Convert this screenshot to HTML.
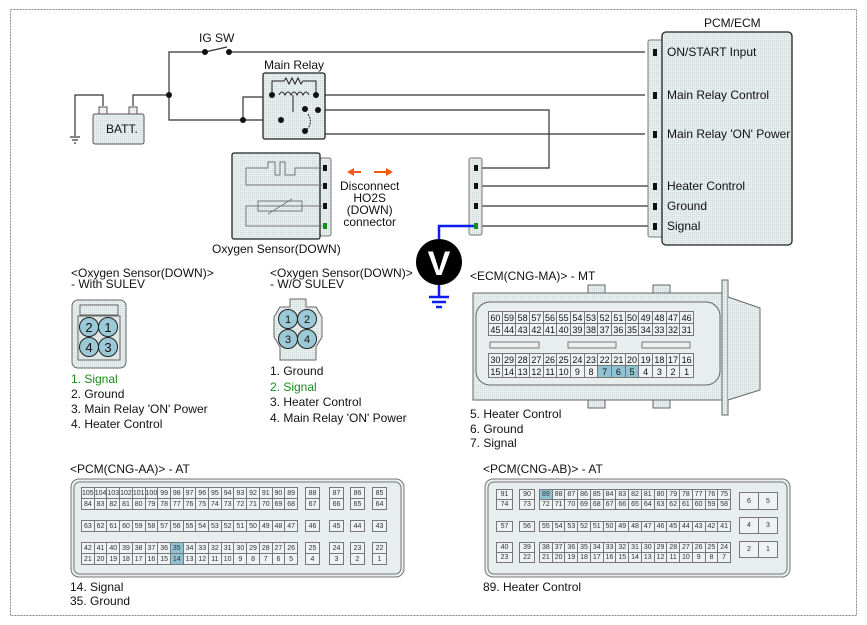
<!DOCTYPE html>
<html><head><meta charset="utf-8"><style>
body{margin:0;background:#fff;font-family:"Liberation Sans",sans-serif}
#w{position:relative;width:867px;height:625px;overflow:hidden}
svg{position:absolute;left:0;top:0}
.t{position:absolute;font-size:12px;color:#111;white-space:nowrap;line-height:14px}
.g{position:absolute;display:grid;background:#eef2f2}
.g span{border:1px solid #777;margin-left:-1px;margin-top:-1px;text-align:center;font-size:7px;color:#333;display:flex;align-items:center;justify-content:center;overflow:hidden}
.e span{font-size:9px;color:#111}
.h{background:#8fc3d4}
.gr{color:#1a8a1a}
</style></head><body><div id="w">
<svg width="867" height="625" viewBox="0 0 867 625">
<defs><pattern id="d" width="2" height="2" patternUnits="userSpaceOnUse"><rect width="2" height="2" fill="#e6eeee"/><rect width="1" height="1" fill="#cfd8d8"/></pattern></defs>
<rect x="10.5" y="9.5" width="846" height="606" fill="none" stroke="#888" stroke-dasharray="2,1"/>
<g stroke="#333" stroke-width="1.2" fill="none">
<polyline points="229,52 645,52"/>
<polyline points="205,52 169,52 169,120 243,120 281,120"/>
<polyline points="169,95 133,95 133,106"/>
<polyline points="103,106 103,95 75,95 75,136"/>
<line x1="70" y1="137" x2="80" y2="137"/><line x1="72" y1="140" x2="78" y2="140"/><line x1="74" y1="143" x2="76" y2="143"/>
<line x1="205" y1="52" x2="227" y2="47"/>
<polyline points="243,120 243,97 272,97"/>
<polyline points="316,95 645,95"/>
<polyline points="318,110 549,110 549,168 482,168"/>
<polyline points="318,110 318,134 645,134"/>
<line x1="281" y1="120" x2="305" y2="109"/>
<line x1="482" y1="186" x2="648" y2="186"/><line x1="482" y1="206" x2="648" y2="206"/><line x1="482" y1="226" x2="648" y2="226"/>
</g>
<g fill="#111"><circle cx="205" cy="52" r="3"/><circle cx="229" cy="52" r="3"/><circle cx="169" cy="95" r="3"/><circle cx="243" cy="120" r="3"/></g>
<!-- battery -->
<rect x="93" y="114" width="51" height="30" rx="2" fill="url(#d)" stroke="#555"/>
<rect x="99" y="107" width="8" height="7" fill="#eee" stroke="#555"/><rect x="129" y="107" width="8" height="7" fill="#eee" stroke="#555"/>
<!-- relay -->
<rect x="263" y="73" width="62" height="66" rx="2" fill="url(#d)" stroke="#222" stroke-width="1.3"/>
<g stroke="#222" fill="none" stroke-width="1">
<polyline points="272,95 272,81 284,81 286,78 289,84 292,78 295,84 298,78 301,84 303,81 316,81 316,95"/>
<path d="M279,95 q3,-6 6,0 q3,-6 6,0 q3,-6 6,0 q3,-6 6,0 q3,-6 6,0"/>
<line x1="293" y1="95" x2="293" y2="112"/>
<path d="M308,114 q6,10 -3,17" stroke-dasharray="2,1"/>
</g>
<g fill="#111"><circle cx="272" cy="95" r="3"/><circle cx="316" cy="95" r="3"/><circle cx="281" cy="120" r="3"/><circle cx="305" cy="109" r="3"/><circle cx="318" cy="110" r="3"/><circle cx="305" cy="131" r="3"/></g>
<!-- oxygen sensor -->
<rect x="320" y="158" width="11" height="78" rx="2" fill="url(#d)" stroke="#777"/>
<rect x="232" y="153" width="88" height="86" rx="2" fill="url(#d)" stroke="#222" stroke-width="1.3"/>
<g stroke="#777" fill="none">
<polyline points="322,168 295,168 295,175 285,175 285,162 280,162 280,175 275,175 275,162 268,162 268,168 246,168 246,185 322,185"/>
<polyline points="322,206 246,206 246,226 322,226"/>
<rect x="258" y="201" width="44" height="10"/><line x1="268" y1="214" x2="292" y2="199"/>
</g>
<g fill="#111"><rect x="323" y="165" width="4" height="6"/><rect x="323" y="183" width="4" height="6"/><rect x="323" y="203" width="4" height="6"/></g>
<rect x="323" y="223" width="4" height="6" fill="#1a8a1a"/>
<g fill="#f05a14" stroke="#f05a14" stroke-width="2"><line x1="352" y1="172" x2="361" y2="172"/><line x1="374" y1="172" x2="388" y2="172"/></g>
<polygon points="347,172 354,168 354,176" fill="#f05a14"/><polygon points="393,172 386,168 386,176" fill="#f05a14"/>
<!-- small connector -->
<rect x="469" y="158" width="13" height="77" rx="2" fill="url(#d)" stroke="#777"/>
<g fill="#111"><rect x="474" y="165" width="4" height="6"/><rect x="474" y="183" width="4" height="6"/><rect x="474" y="203" width="4" height="6"/></g>
<polyline points="476,226 439,226 439,296" stroke="#0a1ef0" stroke-width="2.5" fill="none"/>
<rect x="474" y="223" width="4" height="6" fill="#1a8a1a"/>
<g stroke="#0a1ef0" stroke-width="2.5"><line x1="429" y1="297" x2="449" y2="297"/><line x1="432" y1="302" x2="446" y2="302"/><line x1="436" y1="307" x2="442" y2="307"/></g>
<circle cx="439" cy="262" r="23" fill="#000"/>
<text x="439" y="275" font-family="Liberation Sans" font-weight="bold" font-size="34" fill="#fff" text-anchor="middle">V</text>
<!-- PCM -->
<rect x="648" y="40" width="16" height="197" rx="2" fill="url(#d)" stroke="#777"/>
<rect x="662" y="32" width="130" height="213" rx="4" fill="url(#d)" stroke="#222" stroke-width="1.3"/>
<g fill="#111"><rect x="653" y="49" width="4" height="7"/><rect x="653" y="92" width="4" height="7"/><rect x="653" y="131" width="4" height="7"/><rect x="653" y="183" width="4" height="7"/><rect x="653" y="203" width="4" height="7"/><rect x="653" y="223" width="4" height="7"/></g>
<!-- sensor connector 1 -->
<rect x="72" y="300" width="54" height="68" rx="6" fill="url(#d)" stroke="#666"/>
<rect x="80" y="305" width="38" height="10" fill="none" stroke="#666"/>
<rect x="78" y="316" width="42" height="44" fill="#dfe6e6" stroke="#666"/>
<g fill="#9cc9d6" stroke="#222"><circle cx="89" cy="327" r="9.5"/><circle cx="108" cy="327" r="9.5"/><circle cx="89" cy="347" r="9.5"/><circle cx="108" cy="347" r="9.5"/></g>
<g font-size="13" text-anchor="middle" fill="#111" font-family="Liberation Sans"><text x="89" y="332">2</text><text x="108" y="332">1</text><text x="89" y="352">4</text><text x="108" y="352">3</text></g>
<!-- sensor connector 2 -->
<path d="M290,299 h16 v8 h10 l6,10 v20 l-6,10 v13 h-36 v-13 l-6,-10 v-20 l6,-10 h10 z" fill="url(#d)" stroke="#666"/>
<g fill="#9cc9d6" stroke="#222"><circle cx="288" cy="319" r="9.5"/><circle cx="307" cy="319" r="9.5"/><circle cx="288" cy="339" r="9.5"/><circle cx="307" cy="339" r="9.5"/></g>
<g font-size="11" text-anchor="middle" fill="#111" font-family="Liberation Sans"><text x="288" y="323">1</text><text x="307" y="323">2</text><text x="288" y="343">3</text><text x="307" y="343">4</text></g>
<!-- ECM -->
<rect x="588" y="285" width="17" height="9" fill="url(#d)" stroke="#666"/><rect x="653" y="285" width="17" height="9" fill="url(#d)" stroke="#666"/>
<rect x="588" y="399" width="17" height="9" fill="url(#d)" stroke="#666"/><rect x="653" y="399" width="17" height="9" fill="url(#d)" stroke="#666"/>
<rect x="473" y="293" width="250" height="107" fill="url(#d)" stroke="#666"/>
<rect x="476" y="302" width="244" height="83" rx="14" fill="#e8eeee" stroke="#666"/>
<rect x="722" y="280" width="6" height="135" fill="url(#d)" stroke="#666"/>
<polyline points="728,297 760,308 760,390 728,400" fill="url(#d)" stroke="#666"/>
<g fill="#eee" stroke="#777"><rect x="490" y="342" width="49" height="6"/><rect x="568" y="342" width="48" height="6"/><rect x="642" y="342" width="48" height="6"/></g>
<!-- PCM AA / AB outlines -->
<rect x="71" y="479" width="333" height="98" rx="8" fill="#e8eeee" stroke="#777"/>
<rect x="74" y="482" width="327" height="92" rx="6" fill="none" stroke="#777"/>
<rect x="485" y="479" width="305" height="98" rx="8" fill="#e8eeee" stroke="#777"/>
<rect x="488" y="482" width="299" height="92" rx="6" fill="none" stroke="#777"/>
</svg>

<div class="t" style="left:199px;top:31px">IG SW</div>
<div class="t" style="left:106px;top:122px">BATT.</div>
<div class="t" style="left:264px;top:58px">Main Relay</div>
<div class="t" style="left:212px;top:242px">Oxygen Sensor(DOWN)</div>
<div class="t" style="left:340px;top:180px;text-align:center;line-height:12px">Disconnect<br>HO2S<br>(DOWN)<br>connector</div>
<div class="t" style="left:704px;top:16px">PCM/ECM</div>
<div class="t" style="left:667px;top:45px">ON/START Input</div>
<div class="t" style="left:667px;top:88px">Main Relay Control</div>
<div class="t" style="left:667px;top:127px">Main Relay 'ON' Power</div>
<div class="t" style="left:667px;top:179px">Heater Control</div>
<div class="t" style="left:667px;top:199px">Ground</div>
<div class="t" style="left:667px;top:219px">Signal</div>

<div class="t" style="left:71px;top:268px;line-height:11px">&lt;Oxygen Sensor(DOWN)&gt;<br>- With SULEV</div>
<div class="t" style="left:71px;top:372px;line-height:15px"><span class="gr">1. Signal</span><br>2. Ground<br>3. Main Relay 'ON' Power<br>4. Heater Control</div>
<div class="t" style="left:270px;top:268px;line-height:11px">&lt;Oxygen Sensor(DOWN)&gt;<br>- W/O SULEV</div>
<div class="t" style="left:270px;top:364px;line-height:15.5px">1. Ground<br><span class="gr">2. Signal</span><br>3. Heater Control<br>4. Main Relay 'ON' Power</div>
<div class="t" style="left:470px;top:269px">&lt;ECM(CNG-MA)&gt; - MT</div>
<div class="t" style="left:470px;top:407px;line-height:14.5px">5. Heater Control<br>6. Ground<br>7. Signal</div>
<div class="t" style="left:70px;top:462px">&lt;PCM(CNG-AA)&gt; - AT</div>
<div class="t" style="left:70px;top:580px;line-height:14px">14. Signal<br>35. Ground</div>
<div class="t" style="left:483px;top:462px">&lt;PCM(CNG-AB)&gt; - AT</div>
<div class="t" style="left:483px;top:580px">89. Heater Control</div>

<!-- ECM grids -->
<div class="g e" style="left:489px;top:312px;width:205px;height:24px;grid-template-columns:repeat(15,1fr)"><span>60</span><span>59</span><span>58</span><span>57</span><span>56</span><span>55</span><span>54</span><span>53</span><span>52</span><span>51</span><span>50</span><span>49</span><span>48</span><span>47</span><span>46</span><span>45</span><span>44</span><span>43</span><span>42</span><span>41</span><span>40</span><span>39</span><span>38</span><span>37</span><span>36</span><span>35</span><span>34</span><span>33</span><span>32</span><span>31</span></div>
<div class="g e" style="left:489px;top:354px;width:205px;height:24px;grid-template-columns:repeat(15,1fr)"><span>30</span><span>29</span><span>28</span><span>27</span><span>26</span><span>25</span><span>24</span><span>23</span><span>22</span><span>21</span><span>20</span><span>19</span><span>18</span><span>17</span><span>16</span><span>15</span><span>14</span><span>13</span><span>12</span><span>11</span><span>10</span><span>9</span><span>8</span><span class="h">7</span><span class="h">6</span><span class="h">5</span><span>4</span><span>3</span><span>2</span><span>1</span></div>

<!-- PCM AA -->
<div class="g" style="left:82px;top:488px;width:216px;height:22px;grid-template-columns:repeat(17,1fr)"><span>105</span><span>104</span><span>103</span><span>102</span><span>101</span><span>100</span><span>99</span><span>98</span><span>97</span><span>96</span><span>95</span><span>94</span><span>93</span><span>92</span><span>91</span><span>90</span><span>89</span><span>84</span><span>83</span><span>82</span><span>81</span><span>80</span><span>79</span><span>78</span><span>77</span><span>76</span><span>75</span><span>74</span><span>73</span><span>72</span><span>71</span><span>70</span><span>69</span><span>68</span></div>
<div class="g" style="left:82px;top:521px;width:216px;height:11px;grid-template-columns:repeat(17,1fr)"><span>63</span><span>62</span><span>61</span><span>60</span><span>59</span><span>58</span><span>57</span><span>56</span><span>55</span><span>54</span><span>53</span><span>52</span><span>51</span><span>50</span><span>49</span><span>48</span><span>47</span></div>
<div class="g" style="left:82px;top:543px;width:216px;height:22px;grid-template-columns:repeat(17,1fr)"><span>42</span><span>41</span><span>40</span><span>39</span><span>38</span><span>37</span><span>36</span><span class="h">35</span><span>34</span><span>33</span><span>32</span><span>31</span><span>30</span><span>29</span><span>28</span><span>27</span><span>26</span><span>21</span><span>20</span><span>19</span><span>18</span><span>17</span><span>16</span><span>15</span><span class="h">14</span><span>13</span><span>12</span><span>11</span><span>10</span><span>9</span><span>8</span><span>7</span><span>6</span><span>5</span></div>
<div class="g" style="left:306px;top:488px;width:14px;height:22px"><span>88</span><span>67</span></div>
<div class="g" style="left:330px;top:488px;width:14px;height:22px"><span>87</span><span>66</span></div>
<div class="g" style="left:351px;top:488px;width:14px;height:22px"><span>86</span><span>65</span></div>
<div class="g" style="left:373px;top:488px;width:14px;height:22px"><span>85</span><span>64</span></div>
<div class="g" style="left:306px;top:521px;width:14px;height:11px"><span>46</span></div>
<div class="g" style="left:330px;top:521px;width:14px;height:11px"><span>45</span></div>
<div class="g" style="left:351px;top:521px;width:14px;height:11px"><span>44</span></div>
<div class="g" style="left:373px;top:521px;width:14px;height:11px"><span>43</span></div>
<div class="g" style="left:306px;top:543px;width:14px;height:22px"><span>25</span><span>4</span></div>
<div class="g" style="left:330px;top:543px;width:14px;height:22px"><span>24</span><span>3</span></div>
<div class="g" style="left:351px;top:543px;width:14px;height:22px"><span>23</span><span>2</span></div>
<div class="g" style="left:373px;top:543px;width:14px;height:22px"><span>22</span><span>1</span></div>

<!-- PCM AB -->
<div class="g" style="left:497px;top:490px;width:16px;height:20px"><span>91</span><span>74</span></div>
<div class="g" style="left:520px;top:490px;width:15px;height:20px"><span>90</span><span>73</span></div>
<div class="g" style="left:540px;top:490px;width:191px;height:20px;grid-template-columns:repeat(15,1fr)"><span class="h">89</span><span>88</span><span>87</span><span>86</span><span>85</span><span>84</span><span>83</span><span>82</span><span>81</span><span>80</span><span>79</span><span>78</span><span>77</span><span>76</span><span>75</span><span>72</span><span>71</span><span>70</span><span>69</span><span>68</span><span>67</span><span>66</span><span>65</span><span>64</span><span>63</span><span>62</span><span>61</span><span>60</span><span>59</span><span>58</span></div>
<div class="g" style="left:497px;top:522px;width:16px;height:10px"><span>57</span></div>
<div class="g" style="left:520px;top:522px;width:15px;height:10px"><span>56</span></div>
<div class="g" style="left:540px;top:522px;width:191px;height:10px;grid-template-columns:repeat(15,1fr)"><span>55</span><span>54</span><span>53</span><span>52</span><span>51</span><span>50</span><span>49</span><span>48</span><span>47</span><span>46</span><span>45</span><span>44</span><span>43</span><span>42</span><span>41</span></div>
<div class="g" style="left:497px;top:543px;width:16px;height:20px"><span>40</span><span>23</span></div>
<div class="g" style="left:520px;top:543px;width:15px;height:20px"><span>39</span><span>22</span></div>
<div class="g" style="left:540px;top:543px;width:191px;height:20px;grid-template-columns:repeat(15,1fr)"><span>38</span><span>37</span><span>36</span><span>35</span><span>34</span><span>33</span><span>32</span><span>31</span><span>30</span><span>29</span><span>28</span><span>27</span><span>26</span><span>25</span><span>24</span><span>21</span><span>20</span><span>19</span><span>18</span><span>17</span><span>16</span><span>15</span><span>14</span><span>13</span><span>12</span><span>11</span><span>10</span><span>9</span><span>8</span><span>7</span></div>
<div class="g" style="left:740px;top:493px;width:38px;height:17px;grid-template-columns:1fr 1fr"><span>6</span><span>5</span></div>
<div class="g" style="left:740px;top:518px;width:38px;height:16px;grid-template-columns:1fr 1fr"><span>4</span><span>3</span></div>
<div class="g" style="left:740px;top:542px;width:38px;height:16px;grid-template-columns:1fr 1fr"><span>2</span><span>1</span></div>
</div></body></html>
